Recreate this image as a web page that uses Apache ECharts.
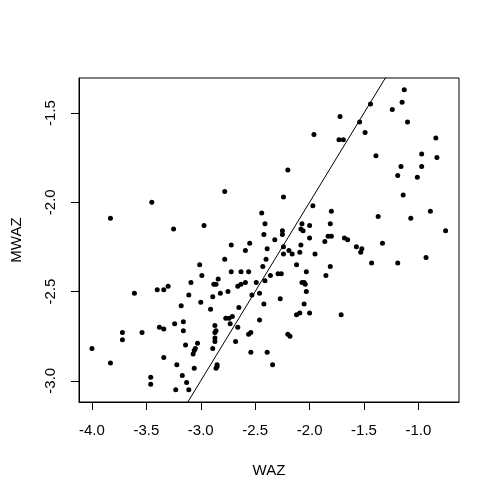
<!DOCTYPE html>
<html>
<head>
<meta charset="utf-8">
<script src="https://cdn.jsdelivr.net/npm/echarts@6/dist/echarts.min.js"></script>
<style>
  html, body { margin: 0; padding: 0; background: #fff; }
  #chart { width: 500px; height: 500px; }
</style>
</head>
<body>
<div id="chart"></div>
<script>
// WAZ (x) and MWAZ (y)
const waz = [
  -1.96, -2.20, -1.13, -1.15, -1.44, -1.24, -1.72, -1.54, -1.10, -1.49, -1.73, -1.69, -0.84, -1.39, -0.97, -0.83, -1.16, -0.97, -1.19, -1.01,
  -3.45, -3.83, -3.25, -2.97, -3.01, -2.99, -3.09, -3.30, -3.34, -3.40, -3.61, -3.11, -2.78, -2.24, -1.97, -1.80, -2.44, -2.41, -2.07, -2.00,
  -1.81, -2.25, -2.08, -2.06, -2.25, -2.42, -2.32, -2.00, -1.83, -1.80, -1.86, -2.72, -2.55, -2.39, -2.24, -2.08, -2.59, -2.24, -2.19, -2.16,
  -2.09, -1.95, -2.78, -2.40, -2.12, -1.81, -2.43, -2.72, -2.63, -2.56, -2.29, -2.26, -2.36, -2.03, -1.85, -2.84, -2.86, -2.88, -2.59, -2.63,
  -2.66, -2.49, -2.41, -2.07, -2.05, -2.04, -2.75, -2.82, -2.89, -2.53, -2.46, -2.03, -2.27, -1.14, -1.37, -0.89, -1.07, -0.75, -1.68, -1.65,
  -1.57, -1.52, -1.53, -1.33, -1.43, -1.19, -0.93, -3.00, -3.18, -3.16, -3.24, -3.38, -3.34, -3.16, -3.72, -3.54, -3.72, -3.14, -3.03, -4.00,
  -3.05, -3.06, -3.07, -3.34, -3.83, -3.22, -3.06, -3.17, -3.46, -3.46, -3.13, -3.23, -3.11, -2.42, -2.05, -2.91, -2.65, -2.09, -2.12, -2.00,
  -2.77, -2.74, -2.71, -2.73, -2.46, -2.87, -2.66, -2.86, -2.87, -2.56, -2.54, -2.20, -2.18, -2.87, -2.87, -2.68, -2.89, -2.54, -2.39, -2.34,
  -2.85, -2.85, -2.86, -1.71
];
const mwaz = [
  -1.62, -1.82, -1.37, -1.44, -1.45, -1.48, -1.52, -1.55, -1.55, -1.61, -1.65, -1.65, -1.64, -1.74, -1.73, -1.75, -1.80, -1.80, -1.85, -1.86,
  -2.00, -2.09, -2.15, -2.13, -2.35, -2.41, -2.45, -2.47, -2.49, -2.49, -2.51, -2.52, -1.94, -1.97, -2.02, -2.05, -2.06, -2.12, -2.12, -2.13,
  -2.12, -2.16, -2.15, -2.16, -2.18, -2.18, -2.21, -2.20, -2.19, -2.19, -2.22, -2.24, -2.23, -2.26, -2.25, -2.24, -2.27, -2.29, -2.27, -2.29,
  -2.28, -2.29, -2.32, -2.32, -2.35, -2.36, -2.36, -2.39, -2.39, -2.39, -2.40, -2.40, -2.41, -2.39, -2.41, -2.43, -2.46, -2.46, -2.45, -2.46,
  -2.47, -2.45, -2.44, -2.45, -2.45, -2.46, -2.50, -2.51, -2.53, -2.52, -2.51, -2.50, -2.54, -1.96, -2.08, -2.05, -2.09, -2.16, -2.20, -2.21,
  -2.25, -2.26, -2.28, -2.23, -2.34, -2.34, -2.31, -2.56, -2.58, -2.67, -2.68, -2.70, -2.71, -2.72, -2.73, -2.73, -2.77, -2.80, -2.79, -2.82,
  -2.82, -2.83, -2.85, -2.87, -2.90, -2.91, -2.93, -2.97, -2.98, -3.02, -3.01, -3.05, -3.05, -2.57, -2.57, -2.60, -2.59, -2.62, -2.63, -2.62,
  -2.65, -2.65, -2.64, -2.68, -2.66, -2.69, -2.70, -2.72, -2.73, -2.74, -2.73, -2.74, -2.75, -2.76, -2.78, -2.78, -2.82, -2.84, -2.84, -2.91,
  -2.91, -2.92, -2.93, -2.63
];
// reference line y = x (drawn between two far points, clipped to the box)
const identityLine = [[-4.5, -4.5], [0, 0]];
const xTicks = [-4.0, -3.5, -3.0, -2.5, -2.0, -1.5, -1.0];
const yTicks = [-3.0, -2.5, -2.0, -1.5];

const points = waz.map((v, i) => [v, mwaz[i]]);
const font = "'Liberation Sans', Arial, sans-serif";

const myChart = echarts.init(document.getElementById('chart'));
const option = {
  animation: false,
  grid: {
    left: 79, right: 41, top: 78, bottom: 98,
    show: true, borderColor: '#000', borderWidth: 1, backgroundColor: 'transparent'
  },
  xAxis: {
    type: 'value',
    min: -4.119, max: -0.627,
    name: 'WAZ', nameLocation: 'middle', nameGap: 61,
    nameTextStyle: { color: '#000', fontSize: 15, fontFamily: font },
    axisLine: { show: true, lineStyle: { color: '#000', width: 1 } },
    axisTick: { show: true, customValues: xTicks, length: 8, lineStyle: { color: '#000' } },
    axisLabel: {
      customValues: xTicks, margin: 21, color: '#000', fontSize: 15, fontFamily: font,
      formatter: v => v.toFixed(1)
    },
    splitLine: { show: false }
  },
  yAxis: {
    type: 'value',
    min: -3.119, max: -1.304,
    name: 'MWAZ', nameLocation: 'middle', nameGap: 55, nameRotate: 90,
    nameTextStyle: { color: '#000', fontSize: 15, fontFamily: font },
    axisLine: { show: true, lineStyle: { color: '#000', width: 1 } },
    axisTick: { show: true, customValues: yTicks, length: 8, lineStyle: { color: '#000' } },
    axisLabel: {
      customValues: yTicks, rotate: 90, margin: 21, color: '#000', fontSize: 15, fontFamily: font,
      formatter: v => v.toFixed(1)
    },
    splitLine: { show: false }
  },
  series: [
    {
      type: 'scatter',
      data: points,
      symbol: 'circle',
      symbolSize: 5,
      itemStyle: { color: '#000', opacity: 1 },
      silent: true
    },
    {
      type: 'line',
      data: identityLine,
      symbol: 'none',
      clip: true,
      lineStyle: { color: '#000', width: 1 },
      silent: true
    }
  ]
};
myChart.setOption(option);
</script>
</body>
</html>
